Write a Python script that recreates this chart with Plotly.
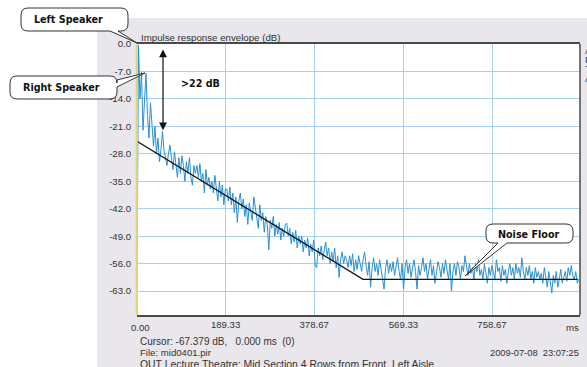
import plotly.graph_objects as go

# ---------------- data ----------------
T_STEP_MS = 3.2
SIGNAL_DB = [
    -62, -0.3, -14, -7.2, -22, -16, -7.5, -18, -24, -15,
    -20, -26, -21, -28, -24, -30, -27, -22.3, -27, -29,
    -31, -28, -25.8, -29, -32, -27.5, -31, -34, -29, -33,
    -28.5, -31, -35, -30, -33, -29, -34, -36, -31, -33,
    -31, -34, -30.5, -35, -33, -38, -32, -36, -34, -37,
    -35, -38, -33.5, -37, -40, -35, -39, -36, -41, -37,
    -37, -40, -36.5, -41, -38, -43, -39, -45.5, -40, -38,
    -42, -39.5, -44, -41, -46, -40.5, -43, -45, -39, -42,
    -44, -47, -41, -45, -43, -48, -44, -46, -52.5, -45,
    -47, -44, -49, -46, -48.5, -45.5, -50, -47, -49, -46,
    -45.7, -49, -47, -51, -48, -50.5, -47.5, -52, -49, -51,
    -49, -53, -50, -52, -49.5, -54, -51, -53, -50, -56.5,
    -57, -52, -54, -51.5, -55, -53, -50.5, -54, -52, -56,
    -53, -55.5, -52, -57, -54, -59.5, -55, -53, -56, -54,
    -55, -57, -54, -56.5, -53.5, -58, -55, -57.5, -54, -56,
    -58, -55, -53, -56.5, -59, -55.5, -62, -57, -54.5, -58,
    -56, -59, -55, -57.5, -60, -62.5, -57, -55, -58.5, -56,
    -58, -55.5, -59, -57, -54.5, -58, -60, -56, -62.5, -57,
    -55, -58.5, -56, -59.5, -57, -55, -58, -62.5, -56.5, -59,
    -57, -54.5, -58, -56, -60, -57.5, -55, -59, -56.5, -61,
    -58, -55.5, -57, -59.5, -56, -58.5, -55, -57.5, -60, -56,
    -63, -58, -56, -59, -55.5, -57, -60, -56.5, -58, -54,
    -57, -59, -56, -58.5, -57, -60, -56, -58, -55, -59,
    -57.5, -60, -56, -58, -61, -57, -59, -56.5, -58, -60,
    -55, -58, -57, -60.5, -56.5, -59, -57.5, -61, -58, -56,
    -59, -57, -60, -56, -58.5, -57, -59.5, -54.5, -58, -60,
    -57, -59, -56.5, -60, -58, -61, -57, -59.5, -58, -60,
    -58.5, -61, -57, -59, -62, -58, -60.5, -63.5, -59, -61,
    -58, -62, -60, -57.5, -61, -59, -58, -60.5, -57, -59,
    -56.5, -59, -60, -58, -61, -60,
]
SIGNAL_MS = [i * T_STEP_MS for i in range(len(SIGNAL_DB))]

DECAY_MS = [0, 483, 942]
DECAY_DB = [-24.8, -60, -60]

ARROW_MS = 55.6
ARROW_TOP_DB = -1.0
ARROW_BOTTOM_DB = -22.0

Y_TICKS = [0, -7, -14, -21, -28, -35, -42, -49, -56, -63]
Y_TICK_TEXT = ["0.0", "-7.0", "-14.0", "-21.0", "-28.0", "-35.0", "-42.0", "-49.0", "-56.0", "-63.0"]
X_TICKS = [0, 189.33, 378.67, 569.33, 758.67]
X_TICK_TEXT = ["", "189.33", "378.67", "569.33", "758.67"]
X_ZERO_LABEL = "0.00"
X_RANGE = [0, 946.67]
Y_RANGE = [-69.1, 0]

# ---------------- layout helpers ----------------
W, H = 587, 367
L, R, T, B = 137, 580, 44, 315


def px(x):
    return (x - L) / (R - L)


def py(y):
    return (B - y) / (B - T)


def P(x, y):
    return f"{px(x):.5f},{py(y):.5f}"


def bubble(x0, y0, x1, y1, r, side, a, b, tip):
    s = [f"M{P(x0 + r, y0)}", f"L{P(x1 - r, y0)}", f"Q{P(x1, y0)} {P(x1, y0 + r)}"]
    if side == "right":
        s += [f"L{P(x1, a)}", f"L{P(*tip)}", f"L{P(x1, b)}"]
    s += [f"L{P(x1, y1 - r)}", f"Q{P(x1, y1)} {P(x1 - r, y1)}"]
    if side == "bottom":
        s += [f"L{P(b, y1)}", f"L{P(*tip)}", f"L{P(a, y1)}"]
    s += [f"L{P(x0 + r, y1)}", f"Q{P(x0, y1)} {P(x0, y1 - r)}",
          f"L{P(x0, y0 + r)}", f"Q{P(x0, y0)} {P(x0 + r, y0)}", "Z"]
    return " ".join(s)


fig = go.Figure()
fig.add_trace(go.Scatter(x=SIGNAL_MS, y=SIGNAL_DB, mode="lines",
                         line=dict(color="#2a8fd3", width=1), hoverinfo="skip"))
fig.add_trace(go.Scatter(x=DECAY_MS, y=DECAY_DB, mode="lines",
                         line=dict(color="#111111", width=1.3), hoverinfo="skip"))

shapes = []
# app gray background
shapes.append(dict(type="rect", xref="paper", yref="paper", layer="below",
                   x0=px(97), x1=px(600), y0=py(380), y1=py(18),
                   fillcolor="#e9e7eb", line=dict(width=0)))
# white plot area
shapes.append(dict(type="rect", xref="paper", yref="paper", layer="below",
                   x0=0, x1=1, y0=0, y1=1, fillcolor="white", line=dict(width=0)))
# frame right
shapes.append(dict(type="line", xref="paper", yref="paper", x0=1, x1=1, y0=0, y1=1,
                   line=dict(color="#4a4a4a", width=1.5)))
# yellow cursor line at left
shapes.append(dict(type="line", xref="paper", yref="paper", x0=px(136.8), x1=px(136.8), y0=0, y1=1,
                   line=dict(color="#dcd67c", width=2.2)))
# callout bubbles
for geo in [
    (21, 8, 128, 31, 7, "bottom", 110, 118, (137, 43)),
    (10, 76, 117, 99, 7, "right", 80, 87, (145, 73)),
    (486, 224, 573, 243, 7, "bottom", 498, 507, (465, 276)),
]:
    shapes.append(dict(type="path", xref="paper", yref="paper", path=bubble(*geo),
                       fillcolor="white", line=dict(color="#333333", width=1)))


def sans(size, color="#333333"):
    return dict(family="Liberation Sans, Arial, sans-serif", size=size, color=color)


bold = dict(family="DejaVu Sans, Verdana, sans-serif", size=9.6, color="#111111")

ann = []


def A(text, x, y, xanchor="left", font=None):
    ann.append(dict(text=text, x=px(x), y=py(y), xref="paper", yref="paper",
                    xanchor=xanchor, yanchor="middle", showarrow=False,
                    font=font or sans(10)))


A("Impulse response envelope (dB)", 138.5, 37.5, font=sans(9.7))
A(X_ZERO_LABEL, 140.5, 327, "center", sans(9.6))
A("ms", 580.5, 327, "right", sans(9.6))
A("Cursor: -67.379 dB,   0.000 ms  (0)", 137.5, 341, font=sans(10))
A("File: mid0401.pir", 137.5, 353, font=sans(9.6))
A("QUT Lecture Theatre: Mid Section 4 Rows from Front, Left Aisle", 137.5, 364, font=sans(10.4))
A("2009-07-08  23:07:25", 580.5, 352.5, "right", sans(9.3))
A("<b>Left Speaker</b>", 68, 19.5, "center", bold)
A("<b>Right Speaker</b>", 61, 87.5, "center", bold)
A("<b>Noise Floor</b>", 528, 234, "center", bold)
A("<b>&gt;22 dB</b>", 200.5, 83, "center", bold)
for letter, yy, col in [("A", 50, "#333333"), ("P", 59.5, "#3a2a60"), ("T", 68.5, "#3a3aa8"), ("A", 78.5, "#333333")]:
    A(letter, 582.5, yy, "left", sans(9.5, col))

# double-headed arrow
ann.append(dict(x=ARROW_MS, y=ARROW_BOTTOM_DB, ax=ARROW_MS, ay=ARROW_TOP_DB,
                xref="x", yref="y", axref="x", ayref="y", text="",
                showarrow=True, arrowhead=2, arrowside="end+start", arrowsize=1.3,
                arrowwidth=1.2, arrowcolor="#111111", standoff=0, startstandoff=0))

fig.update_layout(
    width=W, height=H, autosize=False,
    margin=dict(l=L, r=W - R, t=T, b=H - B),
    paper_bgcolor="white", plot_bgcolor="white",
    showlegend=False, hovermode=False,
    shapes=shapes, annotations=ann,
    xaxis=dict(range=X_RANGE, tickvals=X_TICKS, ticktext=X_TICK_TEXT,
               showgrid=True, gridcolor="#a6d0ec", gridwidth=1, zeroline=False,
               showline=True, mirror=True, linecolor="#4a4a4a", linewidth=1.5,
               ticks="", tickfont=sans(9.6), ticklabelstandoff=0),
    yaxis=dict(range=Y_RANGE, tickvals=Y_TICKS, ticktext=Y_TICK_TEXT,
               showgrid=True, gridcolor="#a6d0ec", gridwidth=1, zeroline=False,
               showline=False, ticks="", tickfont=sans(9.6), ticklabelstandoff=5),
)

fig.write_html("out.html", config={"displayModeBar": False})

# remove the default page margin so the figure sits at the window's top-left corner
with open("out.html", encoding="utf-8") as f:
    html = f.read()
html = html.replace("<head>", "<head><style>html,body{margin:0;padding:0;overflow:hidden;}</style>", 1)
with open("out.html", "w", encoding="utf-8") as f:
    f.write(html)
